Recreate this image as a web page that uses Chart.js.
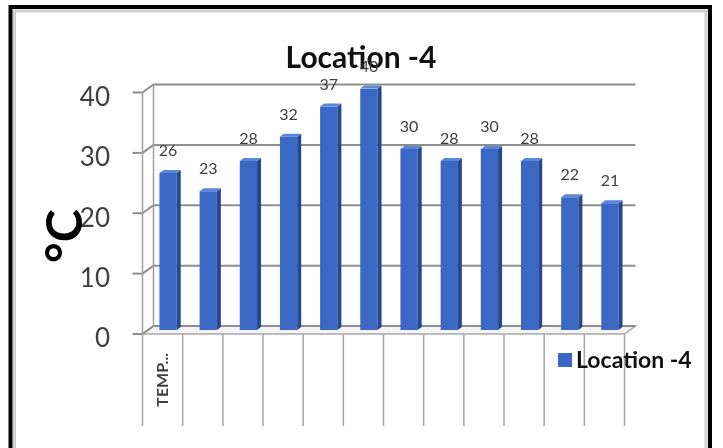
<!DOCTYPE html>
<html>
<head>
<meta charset="utf-8">
<script src="https://cdn.jsdelivr.net/npm/chart.js@4/dist/chart.umd.min.js"></script>
<style>
  html, body { margin: 0; padding: 0; background: #fff; }
  #wrap { width: 723px; height: 448px; position: relative; }
</style>
</head>
<body>
<div id="wrap"><canvas id="c" width="723" height="448"></canvas></div>
<script>
// ---- data ----
const chartTitle = 'Location -4';
const seriesName = 'Location -4';
const axisTitle = '°C';
const categories = ['TEMP...', '', '', '', '', '', '', '', '', '', '', ''];
const temps = [26, 23, 28, 32, 37, 40, 30, 28, 30, 28, 22, 21];
const yTicks = [0, 10, 20, 30, 40];

const FONT = 'Lato, "Open Sans", sans-serif';
const DX = 5.5, DY = 4;          // 3D depth offset (mid plane -> back plane)
const BAR_BLUE = '#3a68c4';

const threeD = {
  id: 'threeD',
  beforeDraw(chart) {
    const ctx = chart.ctx;
    ctx.save();
    ctx.fillStyle = '#fff';
    ctx.fillRect(0, 0, chart.width, chart.height);
    // outer frame
    ctx.strokeStyle = '#000';
    ctx.lineWidth = 4;
    ctx.strokeRect(10.5, 7, 699.5, 460);
    ctx.strokeStyle = '#cfcfcf';
    ctx.lineWidth = 3;
    ctx.strokeRect(14.5, 11, 691.5, 460);
    // chart title
    ctx.fillStyle = '#111';
    ctx.font = 'bold 30px ' + FONT;
    ctx.textAlign = 'center';
    ctx.textBaseline = 'alphabetic';
    ctx.fillText(chartTitle, 361, 68);
    ctx.restore();
  },
  beforeDatasetsDraw(chart) {
    const ctx = chart.ctx;
    const ys = chart.scales.y;
    const {left, right, top, bottom} = chart.chartArea;
    ctx.save();
    // floor
    ctx.strokeStyle = '#a8a8a8';
    ctx.lineWidth = 1.5;
    ctx.fillStyle = '#f4f4f4';
    ctx.beginPath();
    ctx.moveTo(left - DX, bottom + DY);
    ctx.lineTo(right - DX, bottom + DY);
    ctx.lineTo(right + DX, bottom - DY);
    ctx.lineTo(left + DX, bottom - DY);
    ctx.closePath();
    ctx.fill();
    ctx.stroke();
    // back wall gridlines
    ctx.strokeStyle = '#8e8e8e';
    ctx.lineWidth = 2;
    yTicks.forEach(v => {
      const y = ys.getPixelForValue(v);
      ctx.beginPath();
      ctx.moveTo(left - DX, y + DY);
      ctx.lineTo(left + DX, y - DY);
      ctx.lineTo(right + DX, y - DY);
      ctx.stroke();
      // tick mark on front axis
      ctx.beginPath();
      ctx.moveTo(left - DX - 10, y + DY);
      ctx.lineTo(left - DX, y + DY);
      ctx.stroke();
    });
    // side wall edges
    ctx.strokeStyle = '#a0a0a0';
    ctx.lineWidth = 1.5;
    ctx.beginPath();
    ctx.moveTo(left - DX, ys.getPixelForValue(40) + DY);
    ctx.lineTo(left - DX, bottom + DY);
    ctx.moveTo(left + DX, ys.getPixelForValue(40) - DY);
    ctx.lineTo(left + DX, bottom - DY);
    ctx.stroke();
    // category separator lines below the axis
    ctx.strokeStyle = '#a6a6a6';
    ctx.lineWidth = 1.5;
    const n = categories.length;
    const cw = (right - left) / n;
    for (let i = 0; i <= n; i++) {
      const x = left - DX + i * cw;
      ctx.beginPath();
      ctx.moveTo(x, bottom + DY);
      ctx.lineTo(x, 426);
      ctx.stroke();
    }
    ctx.restore();
  },
  afterDatasetsDraw(chart) {
    const ctx = chart.ctx;
    const meta = chart.getDatasetMeta(0);
    const s = 4, sy = 3;
    ctx.save();
    meta.data.forEach((bar, i) => {
      const w = bar.width, x = bar.x, y = bar.y, base = bar.base;
      // right side face
      ctx.fillStyle = '#25498f';
      ctx.beginPath();
      ctx.moveTo(x + w / 2, y);
      ctx.lineTo(x + w / 2 + s, y - sy);
      ctx.lineTo(x + w / 2 + s, base - sy);
      ctx.lineTo(x + w / 2, base);
      ctx.closePath();
      ctx.fill();
      // top face
      ctx.fillStyle = '#5a86d6';
      ctx.beginPath();
      ctx.moveTo(x - w / 2, y);
      ctx.lineTo(x - w / 2 + s, y - sy);
      ctx.lineTo(x + w / 2 + s, y - sy);
      ctx.lineTo(x + w / 2, y);
      ctx.closePath();
      ctx.fill();
      // value label
      ctx.fillStyle = '#404040';
      ctx.font = '16px ' + FONT;
      ctx.textAlign = 'center';
      ctx.textBaseline = 'middle';
      ctx.fillText(String(chart.data.datasets[0].data[i]), x, y - 22);
    });
    // axis title
    ctx.save();
    ctx.translate(82, 263);
    ctx.rotate(-Math.PI / 2);
    ctx.fillStyle = '#000';
    ctx.font = 'bold 50px ' + FONT;
    ctx.textAlign = 'left';
    ctx.textBaseline = 'alphabetic';
    ctx.fillText(axisTitle, 0, 0);
    ctx.restore();
    // legend
    ctx.fillStyle = BAR_BLUE;
    ctx.fillRect(558, 353, 14, 14);
    ctx.fillStyle = '#111';
    ctx.font = 'bold 23px ' + FONT;
    ctx.textAlign = 'left';
    ctx.textBaseline = 'alphabetic';
    ctx.fillText(chart.data.datasets[0].label, 576, 368);
    ctx.restore();
  }
};

const ctx = document.getElementById('c').getContext('2d');
new Chart(ctx, {
  type: 'bar',
  data: {
    labels: categories,
    datasets: [{
      label: seriesName,
      data: temps,
      backgroundColor: (c) => {
        const el = c.element;
        if (!el || el.x === undefined || isNaN(el.x)) return BAR_BLUE;
        const g = c.chart.ctx.createLinearGradient(el.x - el.width / 2, 0, el.x + el.width / 2, 0);
        g.addColorStop(0, '#4677cf');
        g.addColorStop(0.5, '#3b69c5');
        g.addColorStop(1, '#3461bb');
        return g;
      },
      borderWidth: 0,
      barPercentage: 0.43,
      categoryPercentage: 1.0
    }]
  },
  options: {
    responsive: false,
    animation: false,
    layout: { padding: { left: 0, right: 93, top: 88.5, bottom: 0 } },
    plugins: {
      legend: { display: false },
      tooltip: { enabled: false },
      title: { display: false }
    },
    scales: {
      x: {
        grid: { display: false, drawTicks: false },
        border: { display: false },
        ticks: {
          autoSkip: false,
          minRotation: 90,
          maxRotation: 90,
          padding: 23,
          labelOffset: -5.5,
          color: '#404040',
          font: { family: FONT, size: 16, weight: 'bold' }
        },
        afterFit: (s) => { s.height = 118; }
      },
      y: {
        min: 0,
        max: 40,
        ticks: {
          stepSize: 10,
          padding: 38,
          labelOffset: 9,
          color: '#404040',
          font: { family: FONT, size: 26 }
        },
        grid: { display: false, drawTicks: false },
        border: { display: false },
        afterFit: (s) => { s.width = 148; }
      }
    }
  },
  plugins: [threeD]
});
</script>
</body>
</html>
